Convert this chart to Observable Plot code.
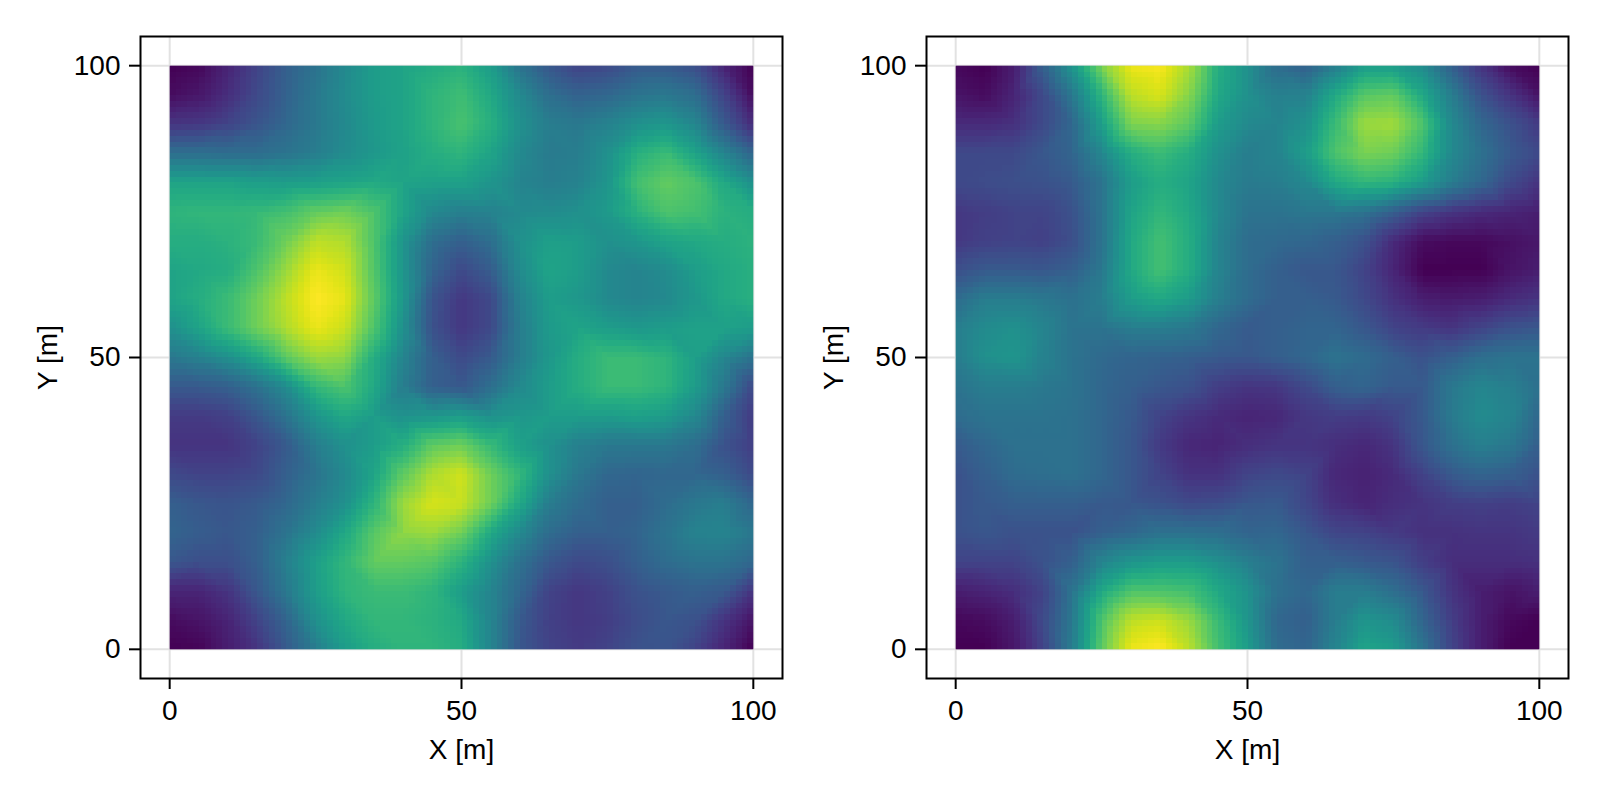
<!DOCTYPE html>
<html><head><meta charset="utf-8">
<script src="https://cdn.jsdelivr.net/npm/d3@7"></script>
<script src="https://cdn.jsdelivr.net/npm/@observablehq/plot@0.6"></script>
<style>
html,body{margin:0;padding:0;background:#fff}
#a,#b{position:absolute;top:0}
#a{left:0}#b{left:786px}
</style></head><body><div id="a"></div><div id="b"></div>
<script>
const gridX = d3.range(0,101,5);
const gridY = d3.range(100,-1,-5);
const tickValues = [0,50,100];
const leftField = [
[0,.02,.1,.2,.3,.38,.47,.55,.58,.61,.64,.55,.38,.27,.2,.22,.28,.28,.24,.1,0],
[.03,.06,.13,.22,.31,.4,.48,.55,.58,.65,.69,.6,.47,.36,.31,.33,.38,.4,.36,.2,.03],
[.15,.16,.2,.26,.33,.4,.47,.54,.58,.65,.71,.63,.5,.42,.4,.44,.5,.53,.46,.28,.12],
[.36,.36,.35,.35,.38,.42,.48,.53,.57,.62,.65,.58,.47,.41,.42,.5,.63,.68,.58,.45,.32],
[.58,.58,.58,.56,.55,.56,.58,.6,.58,.57,.57,.52,.45,.42,.44,.52,.7,.76,.72,.6,.5],
[.65,.66,.66,.67,.7,.76,.78,.72,.58,.47,.43,.44,.47,.48,.5,.54,.64,.72,.7,.64,.62],
[.62,.62,.64,.68,.78,.9,.88,.72,.52,.36,.3,.36,.5,.56,.55,.5,.53,.58,.6,.62,.64],
[.58,.6,.62,.72,.85,.97,.93,.73,.52,.32,.22,.29,.48,.58,.55,.47,.45,.48,.55,.6,.63],
[.58,.62,.68,.78,.9,1,.96,.75,.53,.26,.16,.22,.44,.55,.53,.47,.45,.47,.53,.6,.63],
[.5,.58,.68,.78,.88,.97,.92,.72,.5,.25,.16,.22,.42,.54,.58,.55,.53,.55,.57,.57,.55],
[.4,.44,.5,.6,.75,.85,.83,.62,.45,.3,.22,.28,.42,.53,.62,.68,.68,.65,.56,.46,.38],
[.28,.28,.3,.37,.48,.66,.72,.6,.42,.3,.27,.36,.47,.55,.62,.68,.68,.65,.55,.4,.22],
[.17,.17,.19,.27,.38,.52,.6,.55,.5,.52,.55,.5,.53,.55,.55,.55,.57,.55,.47,.3,.17],
[.15,.15,.15,.2,.28,.42,.5,.55,.62,.75,.78,.67,.56,.5,.43,.4,.4,.4,.36,.25,.18],
[.22,.2,.2,.22,.3,.38,.47,.58,.75,.88,.93,.78,.66,.5,.4,.33,.32,.33,.33,.3,.22],
[.3,.27,.26,.28,.33,.42,.5,.65,.85,.94,.92,.78,.6,.42,.35,.3,.3,.35,.4,.42,.33],
[.32,.29,.27,.3,.38,.48,.6,.74,.83,.85,.78,.6,.47,.35,.3,.3,.32,.38,.44,.45,.4],
[.27,.24,.24,.3,.43,.56,.66,.76,.76,.74,.64,.5,.37,.27,.22,.24,.3,.35,.38,.38,.33],
[.1,.1,.15,.27,.4,.55,.65,.68,.68,.65,.55,.45,.33,.2,.16,.19,.25,.28,.3,.28,.15],
[.03,.05,.1,.2,.32,.5,.6,.66,.66,.64,.6,.45,.28,.19,.16,.18,.23,.27,.25,.15,.05],
[0,.01,.08,.15,.28,.42,.55,.62,.65,.65,.62,.45,.27,.2,.17,.2,.25,.26,.2,.1,0]
];
const rightField = [
[.02,0,.08,.3,.52,.8,.97,.99,.87,.62,.5,.35,.3,.42,.55,.55,.48,.3,.15,.03,0],
[.05,.03,.1,.22,.4,.65,.9,.94,.82,.6,.5,.43,.44,.6,.74,.76,.6,.42,.25,.15,.05],
[.12,.12,.14,.22,.33,.56,.8,.82,.75,.55,.47,.45,.5,.68,.85,.86,.72,.47,.33,.25,.17],
[.22,.22,.22,.27,.32,.46,.62,.68,.62,.5,.42,.45,.55,.72,.8,.78,.66,.47,.37,.28,.22],
[.22,.23,.24,.25,.28,.38,.55,.62,.58,.47,.41,.42,.47,.6,.66,.64,.55,.42,.33,.22,.15],
[.16,.18,.2,.2,.25,.38,.58,.66,.6,.47,.38,.38,.4,.4,.38,.3,.2,.15,.12,.1,.08],
[.16,.19,.2,.19,.24,.38,.6,.7,.62,.45,.35,.34,.33,.3,.25,.12,.03,.02,.02,.04,.06],
[.24,.28,.28,.27,.3,.4,.6,.7,.62,.45,.35,.3,.27,.27,.2,.1,0,0,0,.05,.08],
[.35,.42,.42,.4,.37,.42,.55,.6,.55,.43,.35,.3,.3,.28,.22,.14,.08,.07,.08,.12,.15],
[.42,.48,.5,.45,.38,.38,.42,.42,.4,.33,.28,.3,.32,.32,.27,.2,.17,.15,.2,.25,.27],
[.42,.5,.52,.44,.38,.34,.32,.31,.3,.28,.27,.3,.33,.38,.35,.3,.25,.3,.36,.38,.38],
[.38,.42,.42,.4,.38,.33,.3,.27,.25,.18,.15,.16,.22,.3,.32,.28,.28,.4,.46,.43,.37],
[.35,.38,.38,.38,.37,.33,.28,.2,.15,.12,.1,.11,.16,.18,.17,.2,.28,.41,.48,.45,.33],
[.28,.33,.37,.37,.37,.33,.27,.17,.11,.1,.13,.15,.15,.13,.11,.15,.27,.37,.43,.4,.3],
[.25,.3,.35,.36,.37,.33,.27,.2,.14,.14,.2,.22,.2,.11,.09,.12,.2,.28,.32,.3,.25],
[.25,.28,.3,.3,.3,.28,.27,.25,.22,.23,.27,.28,.21,.13,.1,.13,.15,.18,.19,.18,.2],
[.25,.27,.25,.25,.25,.3,.33,.37,.37,.36,.32,.33,.27,.21,.2,.17,.14,.14,.15,.15,.17],
[.2,.2,.2,.25,.3,.45,.52,.55,.55,.5,.43,.38,.3,.3,.28,.26,.18,.13,.13,.13,.14],
[.08,.1,.13,.2,.38,.6,.72,.72,.7,.6,.51,.37,.33,.42,.42,.36,.27,.15,.08,.05,.08],
[.02,.03,.08,.22,.4,.72,.9,.92,.85,.68,.52,.33,.3,.42,.52,.48,.32,.18,.08,.02,0],
[0,0,.06,.2,.42,.75,.97,1,.9,.7,.55,.35,.32,.45,.58,.55,.38,.2,.08,0,0]
];
const xLabel = "X [m]", yLabel = "Y [m]";

function panel(field){
  const pts = [];
  field.forEach((row,j)=>row.forEach((v,i)=>pts.push({x:gridX[i],y:gridY[j],v})));
  return Plot.plot({
    width:790,height:800,marginLeft:140,marginRight:8,marginTop:36,marginBottom:122,
    style:{fontFamily:"'Liberation Sans',Arial,sans-serif",fontSize:"28px",background:"#fff",color:"#000"},
    x:{domain:[-5,105]},
    y:{domain:[-5,105]},
    color:{type:"linear",scheme:"viridis",domain:[0,1]},
    marks:[
      Plot.gridX(tickValues,{stroke:"#e2e2e2",strokeOpacity:1,strokeWidth:2}),
      Plot.gridY(tickValues,{stroke:"#e2e2e2",strokeOpacity:1,strokeWidth:2}),
      Plot.raster(pts,{x:"x",y:"y",fill:"v",x1:0,x2:100,y1:0,y2:100,width:100,height:100,
        interpolate:"barycentric",imageRendering:"pixelated"}),
      Plot.axisX({ticks:tickValues,tickSize:11,tickPadding:11,strokeWidth:2,tickFormat:d=>String(d),
        label:xLabel,labelAnchor:"center",labelArrow:"none",labelOffset:80}),
      Plot.axisY({ticks:tickValues,tickSize:11,tickPadding:9,strokeWidth:2,tickFormat:d=>String(d),
        label:yLabel,labelAnchor:"center",labelArrow:"none",labelOffset:103}),
      Plot.frame({stroke:"#000",strokeWidth:2})
    ]
  });
}
document.getElementById("a").append(panel(leftField));
document.getElementById("b").append(panel(rightField));
</script></body></html>
